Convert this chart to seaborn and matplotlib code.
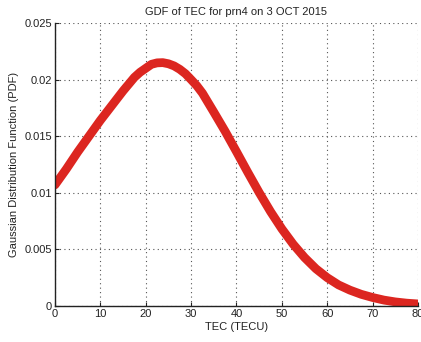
import matplotlib
matplotlib.use("Agg")
import matplotlib.pyplot as plt
import seaborn as sns
import pandas as pd

# Values
tec = [0, 2.5, 5, 7.5, 10, 12.5, 15, 16.25, 17.5, 18.75, 20, 21.25, 22.5, 23.75, 25,
       26.25, 27.5, 28.75, 30, 31.25, 32.5, 35, 37.5,
       40, 42.5, 45, 47.5, 50, 52.5, 55, 57.5, 60, 62.5, 65, 67.5, 70, 72.5, 75, 77.5, 80]
pdf = [0.0107, 0.0121, 0.0136, 0.0150, 0.0164, 0.0177, 0.0190, 0.0196, 0.0202, 0.02065,
       0.0210, 0.02135, 0.02148, 0.02150, 0.02140, 0.02121, 0.02091, 0.02052, 0.0200,
       0.01946, 0.01880, 0.01713, 0.01543, 0.01363, 0.01180, 0.01002,
       0.00834, 0.00681, 0.00545, 0.00428, 0.00329, 0.00250, 0.00186, 0.00140, 0.00103,
       0.00075, 0.00052, 0.00036, 0.00025, 0.00018]
xticks = [0, 10, 20, 30, 40, 50, 60, 70, 80]
yticks = [0, 0.005, 0.01, 0.015, 0.02, 0.025]
yticklabels = ["0", "0.005", "0.01", "0.015", "0.02", "0.025"]

title = "GDF of TEC for prn4 on 3 OCT 2015"
xlabel = "TEC (TECU)"
ylabel = "Gaussian Distribution Function (PDF)"

sns.set_style("white")
plt.rcParams['font.family'] = ['Liberation Sans', 'DejaVu Sans']

df = pd.DataFrame({"TEC": tec, "PDF": pdf})

fig = plt.figure(figsize=(4.21, 3.42), dpi=100)
ax = fig.add_axes([0.1306, 0.1053, 0.8623, 0.8274])

sns.lineplot(data=df, x="TEC", y="PDF", ax=ax, color="#dc2620", linewidth=6.3,
             solid_capstyle="round", solid_joinstyle="round")

ax.set_xlim(0, 80)
ax.set_ylim(0, 0.025)
ax.set_xticks(xticks)
ax.set_xticklabels([str(t) for t in xticks])
ax.set_yticks(yticks)
ax.set_yticklabels(yticklabels)
ax.grid(True, linestyle=(0, (1, 3)), color="#555555", linewidth=0.8)
for s in ["top", "right"]:
    ax.spines[s].set_visible(False)
for s in ["left", "bottom"]:
    ax.spines[s].set_color("#222222")
    ax.spines[s].set_linewidth(1.0)
ax.tick_params(axis="both", direction="in", length=3, width=0.8, labelsize=8,
               colors="#222222", pad=2, left=True, bottom=True)

ax.set_title(title, fontsize=8, color="#222222", pad=6)
ax.set_xlabel(xlabel, fontsize=8, color="#222222", labelpad=2)
ax.set_ylabel(ylabel, fontsize=8, color="#222222", labelpad=4)

fig.savefig("out.png", dpi=100)
